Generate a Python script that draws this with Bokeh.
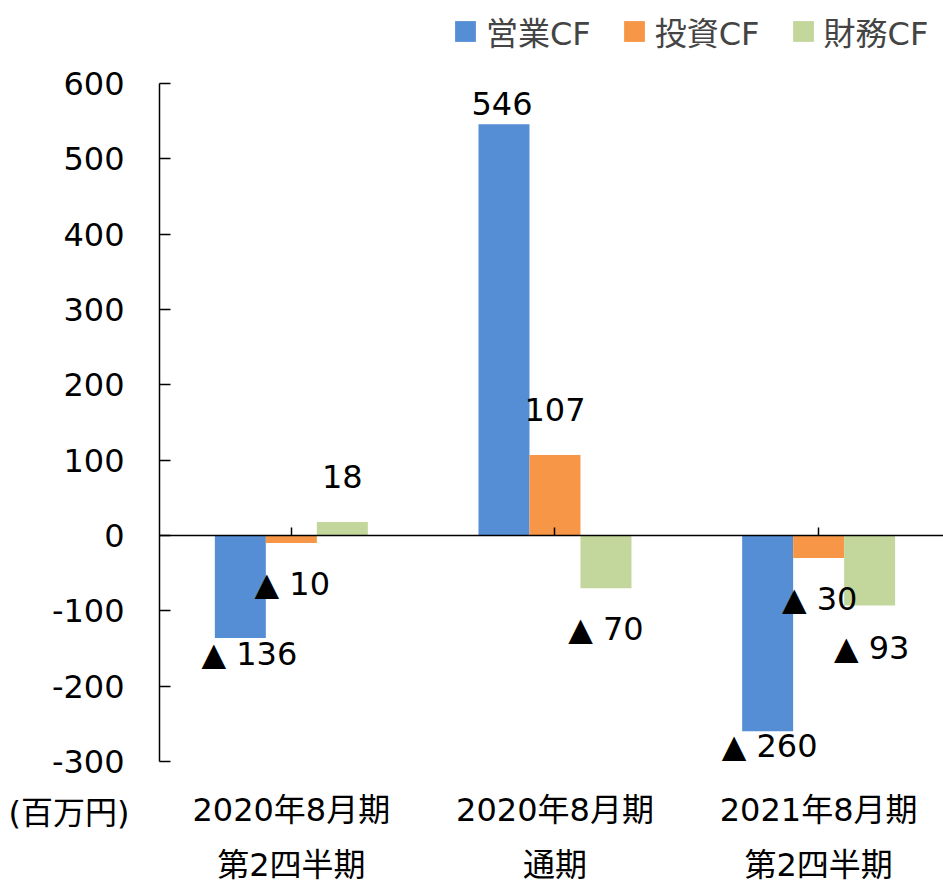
from bokeh.plotting import figure
from bokeh.models import (Range1d, FixedTicker, LinearAxis, Legend, LegendItem,
                          Label, ColumnDataSource)
from bokeh.core.properties import value
from bokeh.embed import file_html
from bokeh.resources import INLINE

# ---------------- data ----------------
categories_line1 = ["2020年8月期", "2020年8月期", "2021年8月期"]
categories_line2 = ["第2四半期", "通期", "第2四半期"]
series_names = ["営業CF", "投資CF", "財務CF"]
operating_cf = [-136, 546, -260]
investing_cf = [-10, 107, -30]
financing_cf = [18, -70, -93]
y_ticks = [-300, -200, -100, 0, 100, 200, 300, 400, 500, 600]
y_tick_labels = ["-300", "-200", "-100", "0", "100", "200", "300", "400", "500", "600"]
unit_label = "(百万円)"

# ---------------- styles / layout ----------------
colors = ["#558ED5", "#F79646", "#C3D69B"]
FONT = "DejaVu Sans, Noto Sans CJK JP"
FS = "32px"
BAR_W = 0.1934
Y_MIN, Y_MAX = y_ticks[0], y_ticks[-1]
# data-label pixel offsets (per series, per group), down = positive
label_dx = [[9, -2, 2], [1, 0, 1], [0, 0, 2]]
label_dy = [[16, -21, 15], [41, -45, 41], [-45, 41, 42]]

series_values = [operating_cf, investing_cf, financing_cf]
group_centers = [i + 0.5 for i in range(len(categories_line1))]
X_END = 2.9736

p = figure(width=943, height=887,
           x_range=Range1d(-0.6031, X_END), y_range=Range1d(-467.3, 710.2),
           output_backend="svg", toolbar_location=None,
           x_axis_location=None, y_axis_location=None,
           min_border=0)
p.grid.visible = False
p.outline_line_color = None
p.background_fill_color = "white"
p.border_fill_color = "white"

bar_renderers = []
sources = []
for s, vals in enumerate(series_values):
    xs = [c + (s - 1) * BAR_W for c in group_centers]
    labels = [str(v) if v >= 0 else "▲ " + str(-v) for v in vals]
    src = ColumnDataSource(dict(x=xs, top=vals, label=labels,
                                dx=label_dx[s], dy=label_dy[s]))
    sources.append(src)
    r = p.vbar(x="x", top="top", bottom=0, width=BAR_W, source=src,
               fill_color=colors[s], line_color=None)
    bar_renderers.append(r)
for src in sources:
    p.text(x="x", y="top", text="label", x_offset="dx", y_offset="dy",
           source=src, text_align="center", text_baseline="middle",
           text_font=value(FONT), text_font_size=FS, text_color="black")

# y axis (at x = 0)
ya = LinearAxis(fixed_location=0, bounds=(Y_MIN, Y_MAX),
                ticker=FixedTicker(ticks=y_ticks),
                major_label_overrides={t: l for t, l in zip(y_ticks, y_tick_labels)},
                major_tick_in=11, major_tick_out=0,
                minor_tick_line_color=None,
                axis_line_color="black", axis_line_width=1.5,
                major_tick_line_color="black", major_tick_line_width=1.5,
                major_label_standoff=35,
                major_label_text_font=FONT, major_label_text_font_size=FS,
                major_label_text_color="black")
p.add_layout(ya, "left")

# zero line axis with ticks at group centres
zero_axis = LinearAxis(fixed_location=0, bounds=(0, X_END),
                       ticker=FixedTicker(ticks=group_centers),
                       major_label_overrides={c: "" for c in group_centers},
                       major_tick_in=8, major_tick_out=0,
                       minor_tick_line_color=None,
                       axis_line_color="black", axis_line_width=1.5,
                       major_tick_line_color="black", major_tick_line_width=1.5,
                       major_label_text_font_size="0px", major_label_standoff=0)
p.add_layout(zero_axis, "below")

# category labels (two lines), hanging below the bottom of the value axis
for lines, standoff in ((categories_line1, 24), (categories_line2, 79)):
    ax = LinearAxis(fixed_location=Y_MIN, ticker=FixedTicker(ticks=group_centers),
                    major_label_overrides={c: t for c, t in zip(group_centers, lines)},
                    axis_line_color=None, major_tick_line_color=None,
                    minor_tick_line_color=None,
                    major_label_standoff=standoff,
                    major_label_text_font=FONT, major_label_text_font_size=FS,
                    major_label_text_color="black")
    p.add_layout(ax, "below")

# unit label
p.add_layout(Label(x=8, y=75, x_units="screen", y_units="screen",
                   text=unit_label, text_align="left", text_baseline="middle",
                   text_font=FONT, text_font_size=FS, text_color="black"))

legend = Legend(items=[LegendItem(label=series_names[s], renderers=[bar_renderers[s]])
                       for s in range(3)],
                orientation="horizontal", location=(452, 833),
                padding=0, margin=0, spacing=30,
                glyph_width=26, glyph_height=26, label_standoff=8,
                label_text_font=FONT, label_text_font_size=FS,
                border_line_color=None, background_fill_alpha=0)
p.add_layout(legend, "center")

open("out.html", "w").write(file_html(p, INLINE))
